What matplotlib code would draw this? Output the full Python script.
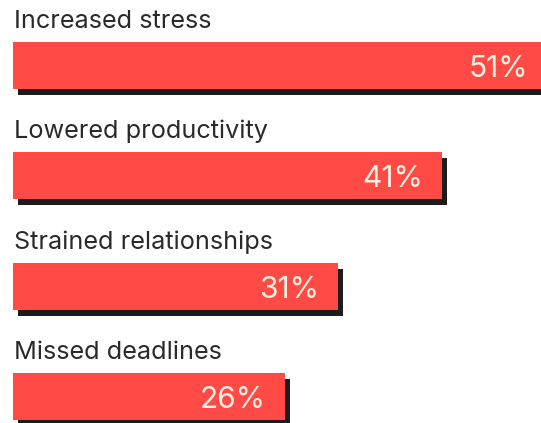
import matplotlib
matplotlib.use("Agg")
import matplotlib.pyplot as plt
import matplotlib.transforms as mtransforms

categories = ["Increased stress", "Lowered productivity", "Strained relationships", "Missed deadlines"]
values = [51, 41, 31, 26]
value_labels = ["51%", "41%", "31%", "26%"]

W, H, DPI = 541, 423, 100
fig = plt.figure(figsize=(W / DPI, H / DPI), dpi=DPI)
ax = fig.add_axes([0, 0, 1, 1])
ax.set_axis_off()

px_per_unit_x = 10.47
left_px = 13
ax.set_xlim(-left_px / px_per_unit_x, (W - left_px) / px_per_unit_x)
spacing = 110.3
first_center = 65.5
ax.set_ylim((H - first_center) / spacing, -first_center / spacing)

bar_h = 47 / spacing
ypos = list(range(len(categories)))

shadow_tr = ax.transData + mtransforms.ScaledTranslation(5 / DPI, -6 / DPI, fig.dpi_scale_trans)
ax.barh(ypos, values, height=bar_h, color="#1c1c1c", transform=shadow_tr, zorder=1)
ax.barh(ypos, values, height=bar_h, color="#ff4a45", zorder=2)

for y, cat, v, lab in zip(ypos, categories, values, value_labels):
    top = y - bar_h / 2
    ax.text(0.1, top - 14 / spacing, cat, ha="left", va="baseline",
            fontsize=18.2, color="#2a2a2a", family="Inter", zorder=3)
    ax.text(v - 19 / px_per_unit_x, top + 35 / spacing, lab, ha="right", va="baseline",
            fontsize=21.5, color="#fdf1e4", family="Inter", zorder=3)

fig.savefig("out.png", dpi=DPI, facecolor="white")
